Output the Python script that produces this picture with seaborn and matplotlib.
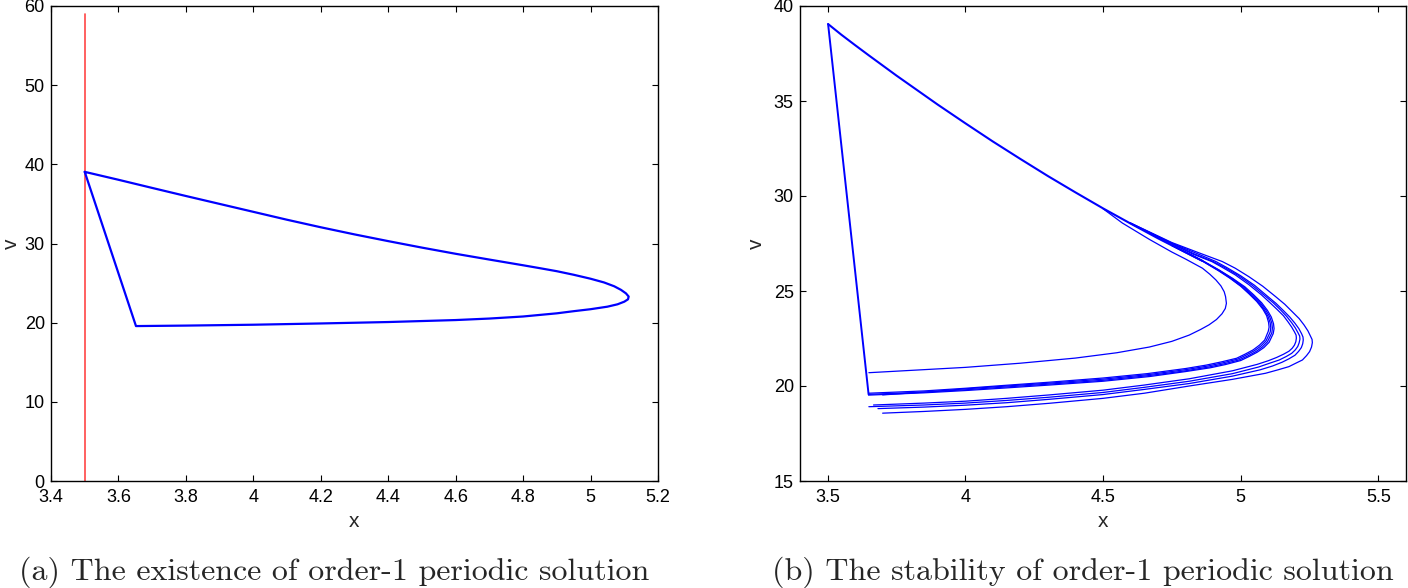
import matplotlib
matplotlib.use("Agg")
import matplotlib.pyplot as plt
import seaborn as sns

# ---------------- Panel (a) data ----------------
a_xticks = [3.4, 3.6, 3.8, 4.0, 4.2, 4.4, 4.6, 4.8, 5.0, 5.2]
a_xticklabels = ["3.4", "3.6", "3.8", "4", "4.2", "4.4", "4.6", "4.8", "5", "5.2"]
a_yticks = [0, 10, 20, 30, 40, 50, 60]
a_yticklabels = ["0", "10", "20", "30", "40", "50", "60"]

a_threshold_x = [3.5, 3.5]
a_threshold_v = [0.0, 59.0]

a_cycle_x = [3.50, 3.60, 3.70, 3.80, 3.90, 4.00, 4.10, 4.20, 4.30, 4.40, 4.50, 4.60, 4.70, 4.80, 4.85,
             4.90, 4.95, 5.00, 5.04, 5.07, 5.09, 5.105, 5.113, 5.111, 5.10, 5.08, 5.05, 5.00, 4.95,
             4.90, 4.80, 4.70, 4.60, 4.40, 4.20, 4.00, 3.80, 3.652, 3.50]
a_cycle_v = [39.05, 38.05, 37.02, 36.00, 35.00, 34.00, 33.00, 32.05, 31.15, 30.30, 29.48, 28.70, 27.97, 27.25, 26.88,
             26.50, 26.05, 25.55, 25.08, 24.60, 24.15, 23.70, 23.30, 22.95, 22.65, 22.32, 22.02, 21.70, 21.45,
             21.18, 20.78, 20.52, 20.33, 20.08, 19.90, 19.74, 19.63, 19.57, 39.05]

# ---------------- Panel (b) data ----------------
b_xticks = [3.5, 4.0, 4.5, 5.0, 5.5]
b_xticklabels = ["3.5", "4", "4.5", "5", "5.5"]
b_yticks = [15, 20, 25, 30, 35, 40]
b_yticklabels = ["15", "20", "25", "30", "35", "40"]

# shared upper branch of the limit cycle
b_upper_x = [3.502, 3.55, 3.60, 3.65, 3.70, 3.75, 3.80, 3.90, 4.00, 4.10, 4.20, 4.30, 4.40, 4.50,
             4.60, 4.70, 4.80, 4.86]
b_upper_v = [39.05, 38.49, 37.94, 37.40, 36.87, 36.34, 35.83, 34.81, 33.83, 32.87, 31.95, 31.05, 30.19, 29.35,
             28.55, 27.77, 27.03, 26.59]

# impulsive jump
b_jump_x = [3.502, 3.649]
b_jump_v = [39.05, 19.56]

# first trajectory (inner curve)
b_inner_x = [3.650, 3.80, 4.00, 4.20, 4.40, 4.55, 4.668, 4.75, 4.813, 4.855, 4.885, 4.912, 4.932, 4.944, 4.948,
             4.945, 4.940, 4.928, 4.910, 4.888, 4.861, 4.80, 4.75, 4.668, 4.57, 4.50]
b_inner_v = [20.70, 20.82, 20.98, 21.20, 21.47, 21.75, 22.05, 22.35, 22.68, 22.98, 23.22, 23.50, 23.80, 24.08, 24.35,
             24.70, 24.96, 25.27, 25.58, 25.88, 26.20, 26.68, 27.05, 27.72, 28.58, 29.33]

# outer trajectories
b_outer1_x = [3.70, 3.85, 4.0, 4.15, 4.305, 4.5, 4.65, 4.813, 4.97, 5.09, 5.135, 5.175, 5.2, 5.224, 5.239, 5.25,
              5.257, 5.26, 5.259, 5.254, 5.244, 5.23, 5.212, 5.187, 5.16, 5.127, 5.08, 5.03, 4.98, 4.933,
              4.85, 4.75, 4.6]
b_outer1_v = [18.57, 18.66, 18.77, 18.91, 19.09, 19.35, 19.62, 20.0, 20.35, 20.67, 20.85, 21.02, 21.2, 21.37, 21.6,
              21.81, 22.05, 22.28, 22.45, 22.6, 22.9, 23.21, 23.55, 23.91, 24.3, 24.70, 25.25, 25.75, 26.2, 26.55,
              27.0, 27.55, 28.58]
b_outer2_x = [3.683, 3.85, 4.0, 4.15, 4.305, 4.5, 4.65, 4.813, 4.97, 5.07, 5.115, 5.15, 5.175, 5.197, 5.21, 5.22,
              5.225, 5.227, 5.226, 5.221, 5.211, 5.197, 5.178, 5.155, 5.128, 5.095, 5.05, 5.0, 4.95, 4.91,
              4.84, 4.75, 4.6]
b_outer2_v = [18.81, 18.89, 18.99, 19.12, 19.30, 19.55, 19.82, 20.13, 20.52, 20.85, 21.05, 21.25, 21.43, 21.62,
              21.82, 22.02, 22.22, 22.42, 22.58, 22.75, 23.02, 23.3, 23.63, 23.97, 24.35, 24.75, 25.3, 25.8, 26.23,
              26.55, 26.98, 27.52, 28.57]
b_outer3_x = [3.65, 3.85, 4.0, 4.15, 4.305, 4.5, 4.65, 4.813, 4.97, 5.065, 5.105, 5.14, 5.165, 5.185, 5.198, 5.207,
              5.212, 5.215, 5.214, 5.208, 5.198, 5.185, 5.167, 5.145, 5.118, 5.085, 5.04, 4.99, 4.94, 4.9,
              4.83, 4.75, 4.6]
b_outer3_v = [18.91, 19.0, 19.1, 19.24, 19.41, 19.66, 19.93, 20.25, 20.65, 21.0, 21.2, 21.37, 21.55, 21.72, 21.9,
              22.08, 22.27, 22.47, 22.63, 22.8, 23.06, 23.33, 23.66, 24.0, 24.38, 24.78, 25.32, 25.83, 26.25,
              26.55, 26.96, 27.5, 28.56]
b_outer4_x = [3.667, 3.85, 4.0, 4.15, 4.305, 4.5, 4.65, 4.813, 4.97, 5.06, 5.1, 5.13, 5.155, 5.175, 5.187, 5.195,
              5.2, 5.202, 5.201, 5.195, 5.185, 5.172, 5.155, 5.132, 5.105, 5.075, 5.03, 4.98, 4.93, 4.895,
              4.825, 4.75, 4.6]
b_outer4_v = [19.0, 19.1, 19.2, 19.35, 19.53, 19.78, 20.05, 20.38, 20.8, 21.14, 21.33, 21.5, 21.67, 21.83, 21.99,
              22.15, 22.33, 22.52, 22.68, 22.85, 23.1, 23.37, 23.7, 24.03, 24.4, 24.8, 25.33, 25.85, 26.27,
              26.55, 26.95, 27.48, 28.56]

# converging loops near the limit cycle
b_loop1_x = [4.75, 4.861, 4.92, 4.97, 5.015, 5.047, 5.076, 5.097, 5.111, 5.119, 5.121, 5.118, 5.103, 5.084,
             5.06, 5.03, 5.0, 4.945, 4.89, 4.8, 4.67, 4.5, 4.305, 4.15, 4.0, 3.85, 3.649]
b_loop1_v = [27.4, 26.6, 26.12, 25.67, 25.22, 24.8, 24.38, 23.98, 23.63, 23.28, 23.02, 22.76, 22.3, 22.02,
             21.78, 21.55, 21.34, 21.13, 20.96, 20.76, 20.5, 20.25, 20.05, 19.9, 19.76, 19.64, 19.52]
b_loop2_x = [4.75, 4.861, 4.92, 4.97, 5.01, 5.042, 5.07, 5.091, 5.105, 5.113, 5.115, 5.113, 5.097, 5.078,
             5.055, 5.025, 4.994, 4.94, 4.885, 4.8, 4.668, 4.5, 4.305, 4.15, 4.0, 3.85, 3.649]
b_loop2_v = [27.4, 26.59, 26.1, 25.65, 25.22, 24.8, 24.4, 24.0, 23.65, 23.3, 23.05, 22.8, 22.33, 22.05,
             21.81, 21.58, 21.37, 21.17, 21.0, 20.8, 20.55, 20.3, 20.1, 19.95, 19.8, 19.68, 19.56]
b_loop3_x = [4.75, 4.861, 4.92, 4.965, 5.005, 5.037, 5.064, 5.085, 5.099, 5.107, 5.109, 5.107, 5.092, 5.073,
             5.05, 5.02, 4.99, 4.935, 4.88, 4.8, 4.665, 4.5, 4.305, 4.15, 4.0, 3.85, 3.70]
b_loop3_v = [27.4, 26.58, 26.08, 25.65, 25.22, 24.8, 24.42, 24.02, 23.67, 23.32, 23.07, 22.84, 22.38, 22.1,
             21.86, 21.63, 21.42, 21.22, 21.05, 20.86, 20.6, 20.36, 20.15, 20.0, 19.85, 19.68, 19.53]
b_loop4_x = [4.75, 4.861, 4.92, 4.96, 5.0, 5.03, 5.058, 5.08, 5.094, 5.101, 5.103, 5.1, 5.087, 5.068,
             5.045, 5.015, 4.985, 4.93, 4.875, 4.8, 4.66, 4.5, 4.305, 4.15, 4.0, 3.85, 3.649]
b_loop4_v = [27.4, 26.57, 26.06, 25.68, 25.25, 24.85, 24.45, 24.05, 23.7, 23.35, 23.1, 22.88, 22.42, 22.15,
             21.9, 21.67, 21.46, 21.27, 21.1, 20.92, 20.65, 20.42, 20.2, 20.04, 19.88, 19.74, 19.62]

captions = ["(a) The existence of order-1 periodic solution",
            "(b) The stability of order-1 periodic solution"]

# ---------------- Styling ----------------
sns.set_theme(style="ticks", rc={
    "xtick.direction": "in", "ytick.direction": "in",
    "xtick.top": True, "ytick.right": True,
    "xtick.major.size": 4.3, "ytick.major.size": 4.3,
    "xtick.major.width": 0.8, "ytick.major.width": 0.8,
    "axes.linewidth": 1.0, "axes.edgecolor": "black",
    "xtick.color": "black", "ytick.color": "black",
})
plt.rcParams["font.family"] = ["Liberation Sans", "DejaVu Sans"]

W, H = 1408, 588
fig = plt.figure(figsize=(W / 100, H / 100), dpi=100)
ax1 = fig.add_axes([51 / W, (H - 481) / H, (658 - 51) / W, 475 / H])
ax2 = fig.add_axes([800 / W, (H - 481) / H, (1406 - 800) / W, 475 / H])

BLUE = "#0000ff"
RED = "#ff4545"

def draw(ax, xs, vs, color=BLUE, lw=0.9):
    sns.lineplot(x=xs, y=vs, ax=ax, sort=False, estimator=None, color=color,
                 linewidth=lw, legend=False)

# Panel (a)
draw(ax1, a_threshold_x, a_threshold_v, color=RED, lw=1.2)
draw(ax1, a_cycle_x, a_cycle_v, lw=1.6)

# Panel (b)
draw(ax2, b_upper_x, b_upper_v, lw=1.5)
draw(ax2, b_jump_x, b_jump_v, lw=1.4)
draw(ax2, b_inner_x, b_inner_v)
for xs, vs in [(b_outer1_x, b_outer1_v), (b_outer2_x, b_outer2_v),
               (b_outer3_x, b_outer3_v), (b_outer4_x, b_outer4_v),
               (b_loop1_x, b_loop1_v), (b_loop2_x, b_loop2_v),
               (b_loop3_x, b_loop3_v), (b_loop4_x, b_loop4_v)]:
    draw(ax2, xs, vs)

for ax, xt, xtl, yt, ytl, xlim, ylim in [
        (ax1, a_xticks, a_xticklabels, a_yticks, a_yticklabels, (3.4, 5.2), (0, 60)),
        (ax2, b_xticks, b_xticklabels, b_yticks, b_yticklabels, (3.4, 5.6), (15, 40))]:
    ax.set_xlim(*xlim)
    ax.set_ylim(*ylim)
    ax.set_xticks(xt)
    ax.set_xticklabels(xtl, fontsize=13)
    ax.set_yticks(yt)
    ax.set_yticklabels(ytl, fontsize=13)
    ax.tick_params(axis="x", which="major", pad=6)
    ax.tick_params(axis="y", which="major", pad=4.5)
    for s in ax.spines.values():
        s.set_visible(True)
        s.set_color("black")
    ax.set_xlabel("x", fontsize=15)
    ax.set_ylabel("v", fontsize=15)
    ax.xaxis.label.set_va("center")
    ax.yaxis.label.set_va("center")

ax1.xaxis.set_label_coords(0.5, -0.085)
ax1.yaxis.set_label_coords(-0.066, 0.5)
ax2.xaxis.set_label_coords(0.5, -0.085)
ax2.yaxis.set_label_coords(-0.072, 0.5)

fig.text(334 / W, 1 - 572 / H, captions[0], ha="center", va="center",
         fontsize=23, family=["cmr10", "DejaVu Serif"])
fig.text(1083 / W, 1 - 572 / H, captions[1], ha="center", va="center",
         fontsize=23, family=["cmr10", "DejaVu Serif"])

fig.savefig("out.png", dpi=100)
